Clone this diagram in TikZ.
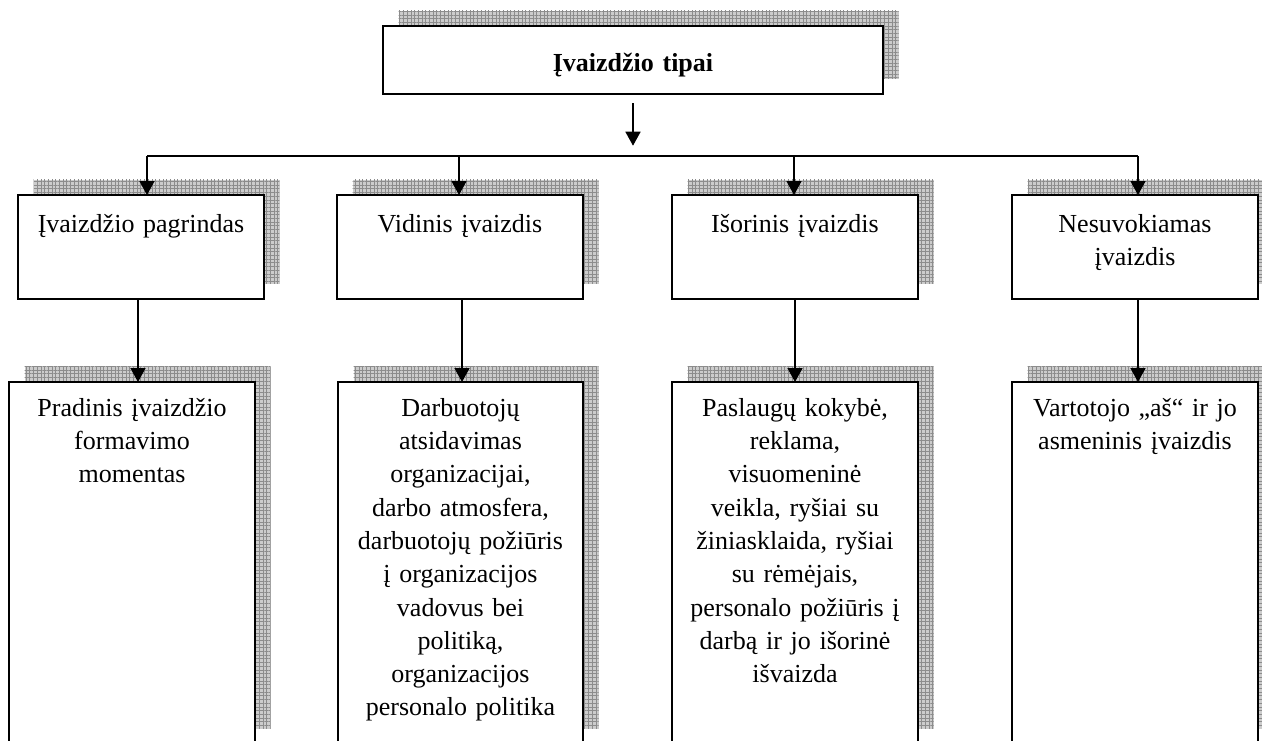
\documentclass[tikz,border=0pt]{standalone}
\usepackage{fontspec}
\setmainfont{Liberation Serif}
\usetikzlibrary{arrows.meta,patterns.meta}
\pgfdeclarelayer{background}
\pgfsetlayers{background,main}
\tikzset{
  box/.style={draw=black, line width=1.6pt, fill=white, rectangle, anchor=north west, inner sep=0pt, outer sep=0pt},
  txt/.style={anchor=north, inner sep=0pt, align=center, text width=240pt, font=\fontsize{26}{33.3}\selectfont},
  shd/.style={fill=gray!40, postaction={pattern={Hatch[angle=0,distance=3.7pt,line width=0.4pt]}, pattern color=gray!90}},
  arr/.style={line width=1.6pt, -{Triangle[width=15pt,length=14pt]}},
  bus/.style={line width=1.4pt},
}
\begin{document}
\begin{tikzpicture}[x=1pt,y=-1pt]
\useasboundingbox (0,0) rectangle (1262,740);
\clip (0,0) rectangle (1262,740);
% boxes
\node[box, minimum width=500pt, minimum height=68pt] (title) at (383,26) {};
\node[box, minimum width=246pt, minimum height=104pt] (t1) at (18,195) {};
\node[box, minimum width=246pt, minimum height=104pt] (t2) at (337,195) {};
\node[box, minimum width=246pt, minimum height=104pt] (t3) at (672,195) {};
\node[box, minimum width=246pt, minimum height=104pt] (t4) at (1012,195) {};
\node[box, minimum width=246pt, minimum height=362pt] (l1) at (9,382) {};
\node[box, minimum width=245pt, minimum height=362pt] (l2) at (338,382) {};
\node[box, minimum width=246pt, minimum height=362pt] (l3) at (672,382) {};
\node[box, minimum width=246pt, minimum height=362pt] (l4) at (1012,382) {};
% texts
\node[txt, text width=480pt, font={\fontsize{26}{33.3}\selectfont\bfseries}] (titletxt) at ([yshift=-21.7pt]title.north) {\strut Įvaizdžio tipai};
\node[txt] (t1txt) at ([yshift=-13.7pt]t1.north) {\strut Įvaizdžio pagrindas};
\node[txt] (t2txt) at ([yshift=-13.7pt]t2.north) {\strut Vidinis įvaizdis};
\node[txt] (t3txt) at ([yshift=-13.7pt]t3.north) {\strut Išorinis įvaizdis};
\node[txt] (t4txt) at ([yshift=-13.7pt]t4.north) {\strut Nesuvokiamas\\ įvaizdis};
\node[txt] (l1txt) at ([yshift=-10.7pt]l1.north) {\strut Pradinis įvaizdžio\\ formavimo\\ momentas};
\node[txt] (l2txt) at ([yshift=-10.7pt]l2.north) {\strut Darbuotojų\\ atsidavimas\\ organizacijai,\\ darbo atmosfera,\\ darbuotojų požiūris\\ į organizacijos\\ vadovus bei\\ politiką,\\ organizacijos\\ personalo politika};
\node[txt] (l3txt) at ([yshift=-10.7pt]l3.north) {\strut Paslaugų kokybė,\\ reklama,\\ visuomeninė\\ veikla, ryšiai su\\ žiniasklaida, ryšiai\\ su rėmėjais,\\ personalo požiūris į\\ darbą ir jo išorinė\\ išvaizda};
\node[txt] (l4txt) at ([yshift=-10.7pt]l4.north) {\strut Vartotojo „aš“ ir jo\\ asmeninis įvaizdis};
% connectors
\coordinate (hub) at (633,156);
\coordinate (d1) at (147,156);
\coordinate (d2) at (459,156);
\coordinate (d3) at (794,156);
\coordinate (d4) at (1138,156);
\draw[arr] ([yshift=-9pt]title.south) -- ([yshift=10.3pt]hub);
\draw[bus] (d1) -- (d4);
\draw[arr] (d1) -- (d1 |- t1.north);
\draw[arr] (d2) -- (d2 |- t2.north);
\draw[arr] (d3) -- (d3 |- t3.north);
\draw[arr] (d4) -- (d4 |- t4.north);
\coordinate (s1) at ([xshift=-3pt]t1.south);
\coordinate (s2) at ([xshift=2pt]t2.south);
\coordinate (s3) at (t3.south);
\coordinate (s4) at ([xshift=3pt]t4.south);
\draw[arr] (s1) -- (s1 |- l1.north);
\draw[arr] (s2) -- (s2 |- l2.north);
\draw[arr] (s3) -- (s3 |- l3.north);
\draw[arr] (s4) -- (s4 |- l4.north);
% shadows
\begin{pgfonlayer}{background}
\fill[white] (0,0) rectangle (1262,740);
\clip (0,0) rectangle (1262,740);
\foreach \n in {title,t1,t2,t3,t4,l1,l2,l3,l4}
  \path[shd] ([shift={(15.5pt,15.5pt)}]\n.south west) rectangle ([shift={(15.5pt,15.5pt)}]\n.north east);
\end{pgfonlayer}
\end{tikzpicture}
\end{document}
